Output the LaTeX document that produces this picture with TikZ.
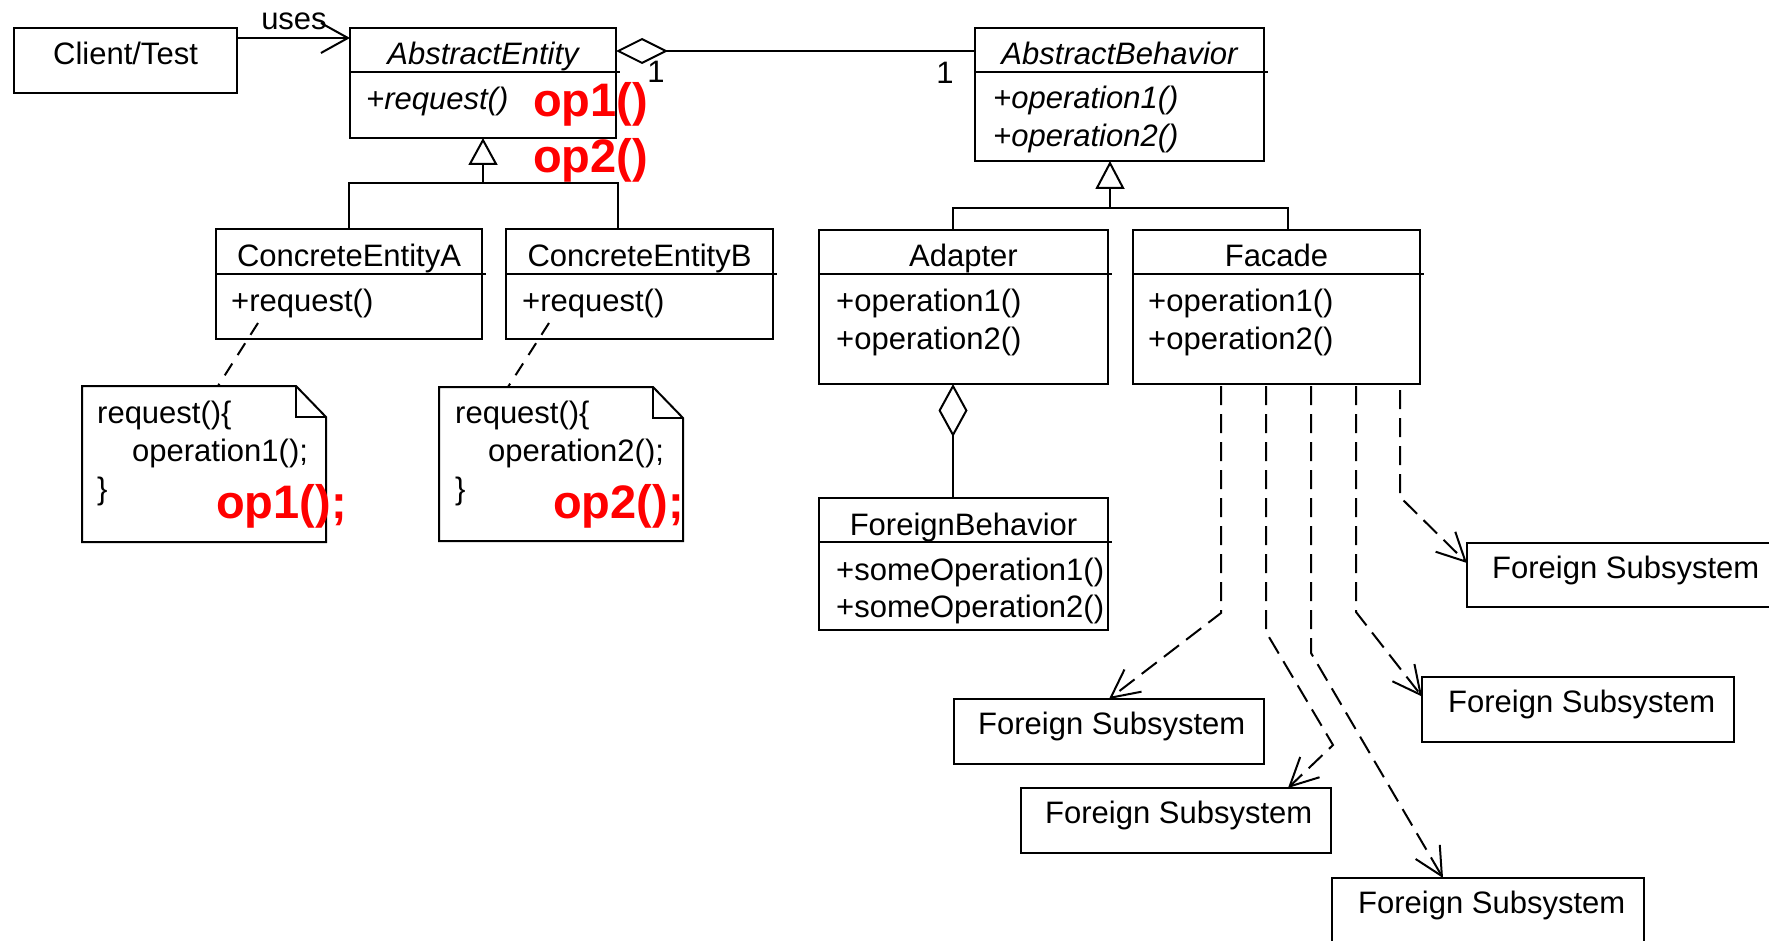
\documentclass[tikz,border=0pt]{standalone}
\usepackage{fontspec}
\setmainfont{Liberation Sans}
\usetikzlibrary{arrows.meta,calc}
\newcommand\umlbox[6]{%
  \node[box, minimum width=#4pt, minimum height=#5pt] (#1) at (#2,#3) {};
  \draw[line] ($(#1.north west)+(0,#6)$) -- ($(#1.north east)+(4,#6)$);
}
\begin{document}
\begin{tikzpicture}[x=1pt,y=-1pt,
  box/.style={draw, line width=2pt, inner sep=0pt, outer sep=0pt, anchor=north west},
  plain/.style={inner sep=0pt, outer sep=0pt, anchor=north west},
  line/.style={line width=2pt},
  txt/.style={inner sep=0pt, font=\fontsize{31}{37}\selectfont},
  itxt/.style={txt, font=\fontsize{31}{37}\selectfont\itshape},
  redtxt/.style={inner sep=0pt, text=red, font=\fontsize{47}{56}\selectfont\bfseries},
  dep/.style={line width=2pt, dash pattern=on 19pt off 9pt, -{Straight Barb[length=28pt,width=28pt]}},
  nlink/.style={line width=2pt, dash pattern=on 14pt off 10pt}]
\useasboundingbox (0,0) rectangle (1769,941);
\clip (0,0) rectangle (1769,941);

% Client
\node[box, minimum width=223pt, minimum height=65pt] (cl) at (14,28) {};
\node[txt, anchor=base] (clt) at ($(cl.north)+(0,37)$) {Client/Test};

% classes
\umlbox{ae}{350}{28}{266}{110}{44}
\umlbox{ab}{975}{28}{289}{133}{44}
\umlbox{cea}{216}{229}{266}{110}{45}
\umlbox{ceb}{506}{229}{267}{110}{45}
\umlbox{ad}{819}{230}{289}{154}{44}
\umlbox{fac}{1133}{230}{287}{154}{44}
\umlbox{fb}{819}{498}{289}{132}{44}

\node[itxt, anchor=base] (aet) at ($(ae.north)+(0,37)$) {AbstractEntity};
\node[itxt, anchor=base west] (aer) at (366,110) {+request()};
\node[itxt, anchor=base] (abt) at ($(ab.north)+(0,37)$) {AbstractBehavior};
\node[itxt, anchor=base west] (ab1) at (993,109) {+operation1()};
\node[itxt, anchor=base west] (ab2) at (993,147) {+operation2()};
\node[txt, anchor=base] (ceat) at ($(cea.north)+(0,38)$) {ConcreteEntityA};
\node[txt, anchor=base west] (cear) at (231,311) {+request()};
\node[txt, anchor=base] (cebt) at ($(ceb.north)+(0,38)$) {ConcreteEntityB};
\node[txt, anchor=base west] (cebr) at (522,311) {+request()};
\node[txt, anchor=base] (adt) at ($(ad.north)+(0,37)$) {Adapter};
\node[txt, anchor=base west] (ad1) at (836,311) {+operation1()};
\node[txt, anchor=base west] (ad2) at (836,349) {+operation2()};
\node[txt, anchor=base] (fact) at ($(fac.north)+(0,37)$) {Facade};
\node[txt, anchor=base west] (fac1) at (1148,311) {+operation1()};
\node[txt, anchor=base west] (fac2) at (1148,349) {+operation2()};
\node[txt, anchor=base] (fbt) at ($(fb.north)+(0,37)$) {ForeignBehavior};
\node[txt, anchor=base west] (fb1) at (836,580) {+someOperation1()};
\node[txt, anchor=base west] (fb2) at (836,617) {+someOperation2()};

% notes
\node[plain, minimum width=244pt, minimum height=156pt] (nA) at (82,386) {};
\node[plain, minimum width=244pt, minimum height=154pt] (nB) at (439,387) {};
\foreach \n in {nA,nB}{
  \draw[line, line join=miter] ($(\n.north east)+(-30,0)$) -- (\n.north west) -- (\n.south west)
     -- (\n.south east) -- ($(\n.north east)+(0,31)$) -- cycle;
  \draw[line] ($(\n.north east)+(-30,0)$) |- ($(\n.north east)+(0,31)$);
}
\node[txt, anchor=base west] (na1) at (97,423) {request()\{};
\node[txt, anchor=base west] (na2) at (132,461) {operation1();};
\node[txt, anchor=base west] (na3) at (97,499) {\}};
\node[txt, anchor=base west] (nb1) at (455,423) {request()\{};
\node[txt, anchor=base west] (nb2) at (488,461) {operation2();};
\node[txt, anchor=base west] (nb3) at (455,499) {\}};
\draw[nlink] ($(cea.south west)+(42,-16)$) -- ($(nA.north west)+(136,0)$);
\draw[nlink] ($(ceb.south west)+(43,-16)$) -- ($(nB.north west)+(69,0)$);

% foreign subsystems
\node[box, minimum width=340pt, minimum height=64pt] (fs1) at (1467,543) {};
\node[box, minimum width=312pt, minimum height=65pt] (fs2) at (1422,677) {};
\node[box, minimum width=310pt, minimum height=65pt] (fs3) at (954,699) {};
\node[box, minimum width=310pt, minimum height=65pt] (fs4) at (1021,788) {};
\node[box, minimum width=312pt, minimum height=65pt] (fs5) at (1332,878) {};
\node[txt, anchor=base west] (fs1t) at ($(fs1.north west)+(25,35)$) {Foreign Subsystem};
\node[txt, anchor=base west] (fs2t) at ($(fs2.north west)+(26,35)$) {Foreign Subsystem};
\node[txt, anchor=base west] (fs3t) at ($(fs3.north west)+(24,35)$) {Foreign Subsystem};
\node[txt, anchor=base west] (fs4t) at ($(fs4.north west)+(24,35)$) {Foreign Subsystem};
\node[txt, anchor=base west] (fs5t) at ($(fs5.north west)+(26,35)$) {Foreign Subsystem};

% uses
\draw[line, -{Straight Barb[length=27pt,width=30pt]}] ($(cl.north east)+(0,10)$) -- ($(ae.north west)+(0,10)$);
\node[txt, anchor=base] (uses) at (294,30) {uses};

% generalizations
\draw[line] (cea.north) -- ++(0,-46) -| ($(ceb.north west)+(112,0)$);
\draw[line, -{Triangle[open,length=27pt,width=29pt]}] ($(ae.south)+(0,45)$) -- (ae.south);
\draw[line] ($(ad.north west)+(134,0)$) -- ++(0,-22) -| ($(fac.north west)+(155,0)$);
\draw[line, -{Triangle[open,length=28pt,width=29pt]}] ($(ab.south west)+(135,47)$) -- ($(ab.south west)+(135,0)$);

% aggregations
\draw[line, {Diamond[open,length=52pt,width=26pt]}-] ($(ae.north east)+(0,23)$) -- ($(ab.north west)+(0,23)$);
\draw[line, {Diamond[open,length=53pt,width=29pt]}-] ($(ad.south west)+(134,0)$) -- ($(fb.north west)+(134,0)$);
\node[txt, anchor=base] (one1) at (656,83) {1};
\node[txt, anchor=base] (one2) at (945,84) {1};

% dependencies
\draw[dep] ($(fac.south west)+(88,2)$) -- ++(0,227) -- (fs3.north);
\draw[dep] ($(fac.south west)+(133,2)$) -- ++(0,246) -- ($(fs4.north east)+(2,-43)$) -- ($(fs4.north east)+(-43,0)$);
\draw[dep] ($(fac.south west)+(178,2)$) -- ++(0,267) -- ($(fs5.north west)+(111,0)$);
\draw[dep] ($(fac.south west)+(223,2)$) -- ++(0,226) -- ($(fs2.west)+(0,-13)$);
\draw[dep] ($(fac.south west)+(267,6)$) -- ++(0,107) -- ($(fs1.west)+(0,-12)$);

% red annotations
\node[redtxt, anchor=base west] (r1) at (533,117) {op1()};
\node[redtxt, anchor=base west] (r2) at (533,173) {op2()};
\node[redtxt, anchor=base west] (r3) at (216,518) {op1();};
\node[redtxt, anchor=base west] (r4) at (553,518) {op2();};
\end{tikzpicture}
\end{document}
